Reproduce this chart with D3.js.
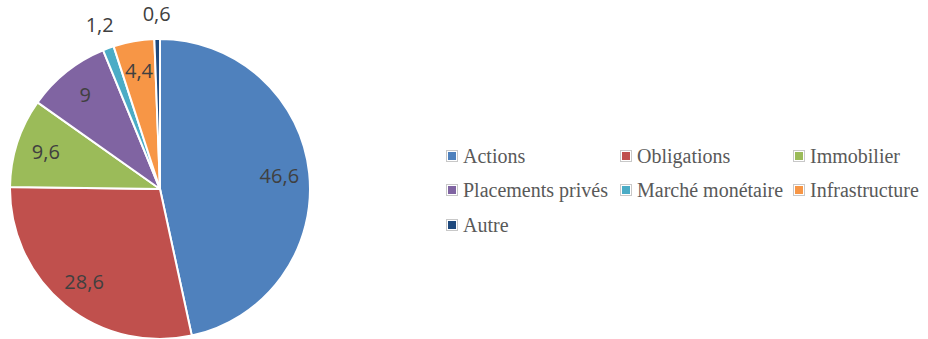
<!DOCTYPE html>
<html>
<head>
<meta charset="utf-8">
<script src="https://cdn.jsdelivr.net/npm/d3@7"></script>
<style>
  html, body { margin: 0; padding: 0; background: #fff; }
  svg { display: block; }
  .val { font-family: "Open Sans", "Liberation Sans", sans-serif; }
  .legend text { font-family: "Liberation Serif", "DejaVu Serif", "Noto Serif", "Times New Roman", serif; }
</style>
</head>
<body>
<svg id="chart" width="928" height="339"></svg>
<script>
// Asset allocation (%)
const categories = ["Actions", "Obligations", "Immobilier", "Placements privés", "Marché monétaire", "Infrastructure", "Autre"];
const values = [46.6, 28.6, 9.6, 9, 1.2, 4.4, 0.6];
const colors = ["#4F81BD", "#C0504D", "#9BBB59", "#8064A2", "#4BACC6", "#F79646", "#1F497D"];

const data = categories.map((c, i) => ({ name: c, value: values[i], color: colors[i] }));

const svg = d3.select("#chart");
const cx = 160, cy = 189, R = 150;

const pie = d3.pie().value(d => d.value).sort(null);
const arcs = pie(data);

const arc = d3.arc().innerRadius(0).outerRadius(R);
const inLabel = d3.arc().innerRadius(120).outerRadius(120);
const outLabel = d3.arc().innerRadius(175).outerRadius(175);

const g = svg.append("g").attr("transform", `translate(${cx},${cy})`);

g.selectAll("path.slice")
  .data(arcs)
  .join("path")
  .attr("class", "slice")
  .attr("d", arc)
  .attr("fill", d => d.data.color)
  .attr("stroke", "#fff")
  .attr("stroke-width", 2)
  .attr("stroke-linejoin", "round");

const fmt = v => String(v).replace(".", ",");

// Small slices get their label outside the pie
g.selectAll("text.val")
  .data(arcs)
  .join("text")
  .attr("class", "val")
  .attr("transform", d => `translate(${(d.data.value < 2 ? outLabel : inLabel).centroid(d)})`)
  .attr("text-anchor", "middle")
  .attr("dy", "0.35em")
  .attr("font-size", 20)
  .attr("fill", "#404040")
  .text(d => fmt(d.data.value));

// Legend: three columns
const colX = [446, 620, 793];
const rowY = [156, 190, 225];
const leg = svg.append("g").attr("class", "legend");
const items = leg.selectAll("g.item")
  .data(data)
  .join("g")
  .attr("class", "item")
  .attr("transform", (d, i) => `translate(${colX[i % 3]},${rowY[Math.floor(i / 3)]})`);

items.append("rect")
  .attr("x", 0.5).attr("y", -5.5)
  .attr("width", 11).attr("height", 11)
  .attr("fill", "#fff")
  .attr("stroke", "#c8c8c8")
  .attr("stroke-width", 1);

items.append("rect")
  .attr("x", 2).attr("y", -4)
  .attr("width", 8).attr("height", 8)
  .attr("fill", d => d.color);

items.append("text")
  .attr("x", 17)
  .attr("y", 0)
  .attr("dy", "0.33em")
  .attr("font-size", 20)
  .attr("fill", "#595959")
  .text(d => d.name);
</script>
</body>
</html>
